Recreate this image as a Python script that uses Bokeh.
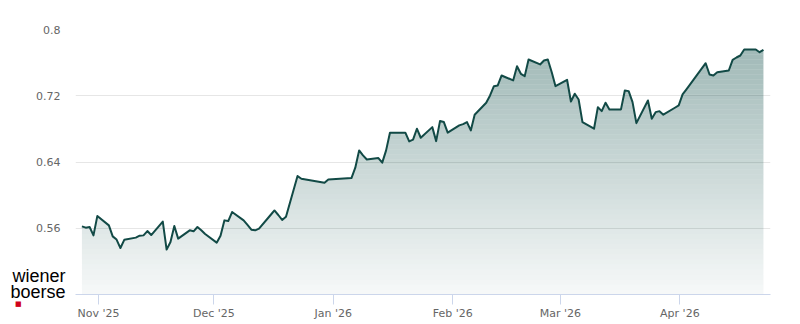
import numpy as np
import pandas as pd
from bokeh.plotting import figure
from bokeh.models import Range1d, FixedTicker, CustomJSTickFormatter, LinearAxis, ColumnDataSource
from bokeh.embed import file_html
from bokeh.resources import INLINE

dates = [
    "2025-10-27", "2025-10-28", "2025-10-29", "2025-10-30", "2025-10-31",
    "2025-11-03", "2025-11-04", "2025-11-05", "2025-11-06", "2025-11-07",
    "2025-11-10", "2025-11-11", "2025-11-12", "2025-11-13", "2025-11-14",
    "2025-11-17", "2025-11-18", "2025-11-19", "2025-11-20", "2025-11-21",
    "2025-11-24", "2025-11-25", "2025-11-26", "2025-11-27", "2025-11-28",
    "2025-12-01", "2025-12-02", "2025-12-03", "2025-12-04", "2025-12-05",
    "2025-12-08", "2025-12-09", "2025-12-10", "2025-12-11", "2025-12-12",
    "2025-12-15", "2025-12-16", "2025-12-17", "2025-12-18", "2025-12-19",
    "2025-12-22", "2025-12-23", "2025-12-29", "2025-12-30",
    "2026-01-02",
    "2026-01-05", "2026-01-06", "2026-01-07", "2026-01-08", "2026-01-09",
    "2026-01-12", "2026-01-13", "2026-01-14", "2026-01-15", "2026-01-16",
    "2026-01-19", "2026-01-20", "2026-01-21", "2026-01-22", "2026-01-23",
    "2026-01-26", "2026-01-27", "2026-01-28", "2026-01-29", "2026-01-30",
    "2026-02-02", "2026-02-03", "2026-02-04", "2026-02-05", "2026-02-06",
    "2026-02-09", "2026-02-10", "2026-02-11", "2026-02-12", "2026-02-13",
    "2026-02-16", "2026-02-17", "2026-02-18", "2026-02-19", "2026-02-20",
    "2026-02-23", "2026-02-24", "2026-02-25", "2026-02-26", "2026-02-27",
    "2026-03-02", "2026-03-03", "2026-03-04", "2026-03-05", "2026-03-06",
    "2026-03-09", "2026-03-10", "2026-03-11", "2026-03-12", "2026-03-13",
    "2026-03-16", "2026-03-17", "2026-03-18", "2026-03-19", "2026-03-20",
    "2026-03-23", "2026-03-24", "2026-03-25", "2026-03-26", "2026-03-27",
    "2026-03-30", "2026-03-31", "2026-04-01", "2026-04-02",
    "2026-04-07", "2026-04-08", "2026-04-09", "2026-04-10",
    "2026-04-13", "2026-04-14", "2026-04-15", "2026-04-16", "2026-04-17",
    "2026-04-20", "2026-04-21", "2026-04-22",
]

prices = [
    0.5623, 0.5607, 0.5615, 0.5514, 0.5747,
    0.5635, 0.5502, 0.5463, 0.5361, 0.5460,
    0.5487, 0.5510, 0.5514, 0.5566, 0.5518,
    0.5680, 0.5342, 0.5434, 0.5627, 0.5475,
    0.5575, 0.5563, 0.5615, 0.5575, 0.5530,
    0.5426, 0.5510, 0.5695, 0.5687, 0.5796,
    0.5695, 0.5640, 0.5583, 0.5575, 0.5595,
    0.5760, 0.5815, 0.5760, 0.5700, 0.5740,
    0.6230, 0.6198, 0.6150, 0.6190,
    0.6198,
    0.6206, 0.6331, 0.6540, 0.6480, 0.6430,
    0.6447, 0.6392, 0.6540, 0.6754, 0.6754,
    0.6754, 0.6649, 0.6670, 0.6802, 0.6693,
    0.6821, 0.6652, 0.6894, 0.6882, 0.6754,
    0.6842, 0.6857, 0.6882, 0.6781, 0.6971,
    0.7116, 0.7204, 0.7316, 0.7324, 0.7445,
    0.7385, 0.7557, 0.7465, 0.7437, 0.7638,
    0.7578, 0.7626, 0.7638, 0.7487, 0.7316,
    0.7393, 0.7131, 0.7224, 0.7155, 0.6881,
    0.6802, 0.7062, 0.7014, 0.7116, 0.7035,
    0.7035, 0.7264, 0.7256, 0.7123, 0.6869,
    0.7143, 0.6923, 0.7002, 0.7014, 0.6971,
    0.7055, 0.7083, 0.7216, 0.7278,
    0.7593, 0.7457, 0.7445, 0.7485,
    0.7505, 0.7634, 0.7662, 0.7686, 0.7759,
    0.7759, 0.7726, 0.7755,
]

x_tick_dates = ["2025-11-01", "2025-12-01", "2026-01-01", "2026-02-01", "2026-03-01", "2026-04-01"]
x_tick_labels = ["Nov '25", "Dec '25", "Jan '26", "Feb '26", "Mar '26", "Apr '26"]
y_ticks = [0.56, 0.64, 0.72, 0.8]
y_min, y_max = 0.48, 0.8

logo_words = ["wiener", "boerse"]
logo_mark = "■"

t = pd.to_datetime(dates) + pd.Timedelta(hours=17)
tx = np.array([ts.value / 1e6 for ts in t])
v = np.array(prices)
src = ColumnDataSource(dict(t=tx, v=v))

p = figure(width=800, height=324, output_backend="svg", toolbar_location=None,
           x_axis_type="datetime",
           x_range=Range1d(pd.Timestamp("2025-10-26 01:00"), pd.Timestamp("2026-04-24 13:00")),
           y_range=Range1d(y_min, y_max),
           min_border_left=75, min_border_right=30, min_border_top=29, min_border_bottom=30)
p.outline_line_color = None
p.background_fill_color = "white"
p.border_fill_color = "white"

# gradient fill under the line, built from semi-transparent horizontal bands
nb = 53
edges = np.linspace(y_min, y_max, nb + 1)
xs_all = [tx[0]]
ys_all = [v[0]]
for i in range(len(v) - 1):
    a, b = v[i], v[i + 1]
    lo, hi = min(a, b), max(a, b)
    cross = edges[(edges > lo) & (edges < hi)]
    if len(cross):
        s = np.sort((cross - a) / (b - a))
        for sv in s:
            xs_all.append(tx[i] + sv * (tx[i + 1] - tx[i]))
            ys_all.append(a + sv * (b - a))
    xs_all.append(tx[i + 1])
    ys_all.append(b)
xs_all = np.array(xs_all)
ys_all = np.array(ys_all)
top_v = v.max()
for k in range(nb):
    lo, hi = edges[k], edges[k + 1]
    if lo >= top_v:
        break
    mid = 0.5 * (lo + hi)
    frac = min(max((mid - y_min) / (top_v - y_min), 0.0), 1.0)
    alpha = 0.035 + (0.40 - 0.035) * frac
    y2 = np.clip(ys_all, lo, hi)
    p.varea(x=xs_all, y1=np.full_like(xs_all, lo), y2=y2,
            fill_color="#12504b", fill_alpha=alpha)

p.line(x="t", y="v", source=src, line_color="#124a46", line_width=2, line_join="round")

# grid
p.xgrid.visible = False
p.ygrid.ticker = FixedTicker(ticks=y_ticks)
p.ygrid.grid_line_color = "#e6e6e6"
p.ygrid.grid_line_width = 1

# y axis
ya = p.yaxis[0]
ya.ticker = FixedTicker(ticks=y_ticks)
ya.formatter = CustomJSTickFormatter(code="return String(Math.round(tick*100)/100);")
ya.axis_line_color = None
ya.major_tick_line_color = None
ya.minor_tick_line_color = None
ya.major_tick_out = 0
ya.major_tick_in = 0
ya.major_label_standoff = 15
ya.major_label_text_font = "DejaVu Sans"
ya.major_label_text_font_size = "11px"
ya.major_label_text_color = "#666666"

# x axis
xa = p.xaxis[0]
tick_ms = [pd.Timestamp(d).value / 1e6 for d in x_tick_dates]
xa.ticker = FixedTicker(ticks=tick_ms)
xa.major_label_overrides = {float(m): lab for m, lab in zip(tick_ms, x_tick_labels)}
xa.axis_line_color = "#ccd6eb"
xa.major_tick_line_color = "#ccd6eb"
xa.minor_tick_line_color = None
xa.major_tick_out = 10
xa.major_tick_in = 0
xa.major_label_standoff = 2
xa.major_label_text_font = "DejaVu Sans"
xa.major_label_text_font_size = "11px"
xa.major_label_text_color = "#666666"

# logo in the lower left corner, drawn as labels of two extra (invisible) left axes
px2v = (y_max - y_min) / 265.0
p.extra_y_ranges = {"logo": Range1d(y_min, y_max)}
word_pos = [y_min + (294 - 275.5) * px2v, y_min + (294 - 291.5) * px2v]
logo_ax = LinearAxis(y_range_name="logo", ticker=FixedTicker(ticks=word_pos),
                     major_label_overrides={float(pv): w for pv, w in zip(word_pos, logo_words)},
                     axis_line_color=None, major_tick_line_color=None, minor_tick_line_color=None,
                     major_tick_out=0, major_tick_in=0, major_label_standoff=-32,
                     major_label_text_font="Liberation Sans", major_label_text_font_size="18px",
                     major_label_text_color="black", major_label_text_baseline="middle")
p.add_layout(logo_ax, "left")
mark_pos = [y_min + 0.2 * px2v]
mark_ax = LinearAxis(y_range_name="logo", ticker=FixedTicker(ticks=mark_pos),
                     major_label_overrides={float(mark_pos[0]): "\n\n" + logo_mark},
                     axis_line_color=None, major_tick_line_color=None, minor_tick_line_color=None,
                     major_tick_out=0, major_tick_in=0, major_label_standoff=-14,
                     major_label_text_font="DejaVu Sans", major_label_text_font_size="7px",
                     major_label_text_color="#d0021b", major_label_text_baseline="top")
p.add_layout(mark_ax, "left")

open("out.html", "w").write(file_html(p, INLINE))
